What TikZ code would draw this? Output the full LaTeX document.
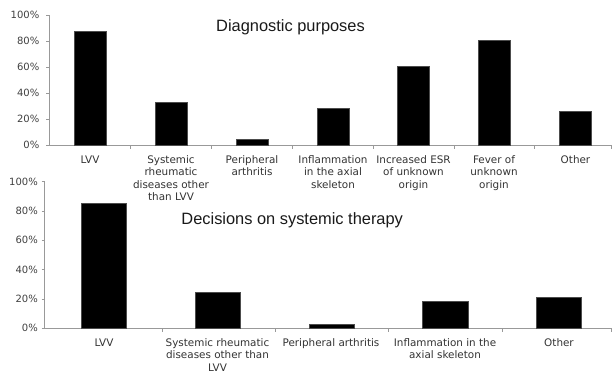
\documentclass[tikz,border=0pt]{standalone}
\usepackage{fontspec}
\setmainfont{DejaVu Sans}
\newfontfamily\headfont{Liberation Sans}

\begin{document}
\begin{tikzpicture}[x=1pt, y=1pt,
  axisline/.style={draw=black!40, line width=0.8pt},
  blackbar/.style={fill=black, draw=black!70, line width=0.4pt},
  catlabel/.style={anchor=north, align=center, inner sep=0pt, yshift=-10pt,
    font=\fontsize{10.4}{12.5}\selectfont, text=black!80},
  pctlabel/.style={anchor=east, inner sep=0pt, font=\fontsize{10}{12}\selectfont, text=black!75},
  heading/.style={anchor=base, inner sep=0pt, font=\headfont\fontsize{16.4}{20}\selectfont, text=black!90}]
\useasboundingbox (0,0) rectangle (612,374);

% diagnostic purposes
\begin{scope}[shift={(0,228.7)}, y=1.3pt]
\coordinate (O1) at (49,0);
\coordinate (T1) at (49,100);
\coordinate (E1) at (612,0);
\draw[axisline] (T1) -- (O1) -- (E1);
\foreach \v in {0,20,...,100} {
  \draw[axisline] (46,\v) -- (49,\v);
  \node[pctlabel] (p1-\v) at (39.5,\v) {\v\%};
}
\foreach \x in {130.5,211.5,292,373.5,454,534.5,611}
  \draw[axisline] (\x,0) -- (\x,-2.5);

\draw[blackbar] (74,0) rectangle (106,88);
\draw[blackbar] (155,0) rectangle (187,33);
\draw[blackbar] (236.5,0) rectangle (268,4.6);
\draw[blackbar] (317,0) rectangle (349,28.5);
\draw[blackbar] (397.5,0) rectangle (429.5,61);
\draw[blackbar] (478.5,0) rectangle (510,81);
\draw[blackbar] (559.5,0) rectangle (591.5,26);

\node[catlabel] (c1-lvv) at (90,0) {LVV};
\node[catlabel] (c1-srd) at (171,0) {Systemic\\rheumatic\\diseases other\\than LVV};
\node[catlabel] (c1-pa) at (252,0) {Peripheral\\arthritis};
\node[catlabel] (c1-ias) at (333,0) {Inflammation\\in the axial\\skeleton};
\node[catlabel] (c1-esr) at (413.5,0) {Increased ESR\\of unknown\\origin};
\node[catlabel] (c1-fuo) at (494,0) {Fever of\\unknown\\origin};
\node[catlabel] (c1-oth) at (575.5,0) {Other};
\end{scope}
\node[heading] (h1) at (290.5,342.3) {Diagnostic purposes};

% decisions on systemic therapy
\begin{scope}[shift={(0,45.7)}, y=1.466pt]
\coordinate (O2) at (44.5,0);
\coordinate (T2) at (44.5,100);
\coordinate (E2) at (612,0);
\draw[axisline] (T2) -- (O2) -- (E2);
\foreach \v in {0,20,...,100} {
  \draw[axisline] (41.5,\v) -- (44.5,\v);
  \node[pctlabel] (p2-\v) at (38,\v) {\v\%};
}
\foreach \x in {162,275,388.5,502.5,611}
  \draw[axisline] (\x,0) -- (\x,-2.2);

\draw[blackbar] (81.5,0) rectangle (126.5,85);
\draw[blackbar] (195,0) rectangle (240.5,24.3);
\draw[blackbar] (309,0) rectangle (354,3);
\draw[blackbar] (422.5,0) rectangle (468,18.4);
\draw[blackbar] (536.5,0) rectangle (581.5,21);

\node[catlabel] (c2-lvv) at (104,0) {LVV};
\node[catlabel] (c2-srd) at (217.5,0) {Systemic rheumatic\\diseases other than\\LVV};
\node[catlabel] (c2-pa) at (331,0) {Peripheral arthritis};
\node[catlabel] (c2-ias) at (445,0) {Inflammation in the\\axial skeleton};
\node[catlabel] (c2-oth) at (559,0) {Other};
\end{scope}
\node[heading] (h2) at (292.2,149.7) {Decisions on systemic therapy};
\end{tikzpicture}
\end{document}
